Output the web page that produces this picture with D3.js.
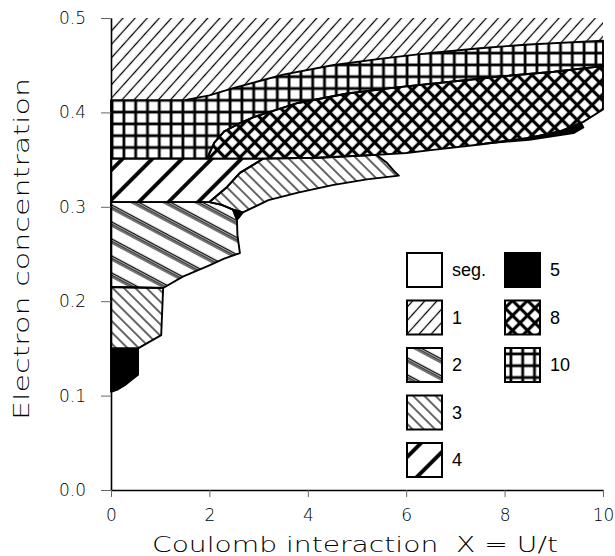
<!DOCTYPE html>
<html>
<head>
<meta charset="utf-8">
<script src="https://cdn.jsdelivr.net/npm/d3@7"></script>
<style>
  body { margin: 0; background: #fff; }
  svg { display: block; }
</style>
</head>
<body>
<svg id="chart" width="615" height="556"></svg>
<script>
// phase boundaries, [X = U/t, electron concentration]
const bndA = [[0,0.413],[1.5,0.413],[2.0,0.418],[2.5,0.426],[3.0,0.433],[3.5,0.44],[4.5,0.45],[5.5,0.457],[6.5,0.463],[7.5,0.468],[8.5,0.472],[10,0.476]];
const bndB = [[1.95,0.351],[2.1,0.368],[2.3,0.38],[2.6,0.388],[2.9,0.395],[3.8,0.41],[4.8,0.42],[5.9,0.427],[7.0,0.433],[7.9,0.438],[9.0,0.443],[10,0.449]];
const bnd8low = [[5.4,0.355],[6.0,0.357],[6.5,0.36],[7.5,0.366],[8.5,0.373],[9.13,0.38],[9.6,0.39],[10,0.403]];
const top4 = [[0,0.351],[3.09,0.351]];
const edge34 = [[3.09,0.351],[2.97,0.347],[2.62,0.336],[2.36,0.321],[2.0,0.305]];
const top3 = [[3.09,0.351],[4.2,0.352],[5.4,0.355]];
const tip3 = [[5.4,0.355],[5.6,0.347],[5.75,0.338],[5.85,0.333]];
const bot3 = [[5.85,0.333],[5.2,0.329],[4.5,0.323],[3.8,0.315],[3.2,0.307],[2.68,0.294]];
const tri5 = [[2.48,0.297],[2.68,0.294],[2.56,0.286]];
const edge23 = [[2.0,0.305],[2.25,0.302],[2.48,0.297]];
const right2 = [[2.56,0.286],[2.57,0.27],[2.62,0.251],[2.3,0.245],[2.0,0.238],[1.46,0.226],[1.06,0.214],[0,0.215]];
const low3 = [[0,0.215],[1.06,0.214],[1.02,0.164],[0.55,0.150],[0,0.150]];
const low5 = [[0,0.150],[0.55,0.150],[0.55,0.122],[0.4,0.116],[0.28,0.111],[0.12,0.106],[0,0.104]];
const sliver5 = [[7.6,0.367],[8.5,0.373],[9.13,0.38],[9.55,0.389],[9.6,0.384],[9.4,0.378],[8.5,0.371]];

const xTicks = [0, 2, 4, 6, 8, 10];
const yTicks = [0, 0.1, 0.2, 0.3, 0.4, 0.5];
const legendCol1 = ["seg.", "1", "2", "3", "4"];
const legendCol2 = ["5", "8", "10"];

const rev = a => a.slice().reverse();

const regions = [
  { id: "1", pts: [[0,0.5],[10,0.5], ...rev(bndA)], stroke: false },
  { id: "10", pts: [...bndA, ...rev(bndB), [0,0.351]] },
  { id: "8", pts: [...bndB, ...rev(bnd8low), ...rev(top3).slice(1)] },
  { id: "4", pts: [...top4, ...edge34.slice(1), [0,0.305]] },
  { id: "3", pts: [...rev(edge34), ...top3.slice(1), ...tip3.slice(1), ...bot3.slice(1), [2.48,0.297], ...rev(edge23).slice(1)] },
  { id: "2", pts: [[0,0.305], ...edge23, ...right2] },
  { id: "5", pts: tri5 },
  { id: "3", pts: low3 },
  { id: "5", pts: low5 },
  { id: "5", pts: sliver5 }
];

const width = 615, height = 556;
const margin = { top: 18, right: 12, bottom: 66, left: 111 };

const svg = d3.select("#chart");

const x = d3.scaleLinear().domain([0, 10]).range([margin.left, width - margin.right]);
const y = d3.scaleLinear().domain([0, 0.5]).range([height - margin.bottom, margin.top]);

// hatch patterns
const defs = svg.append("defs");

function hatch(id, size, angle, lines) {
  const p = defs.append("pattern")
    .attr("id", "p" + id)
    .attr("patternUnits", "userSpaceOnUse")
    .attr("width", size).attr("height", size)
    .attr("patternTransform", `rotate(${angle})`);
  lines.forEach(l => {
    p.append("line")
      .attr("x1", l.h ? 0 : l.o).attr("x2", l.h ? size : l.o)
      .attr("y1", l.h ? l.o : 0).attr("y2", l.h ? l.o : size)
      .attr("stroke", "#000").attr("stroke-width", l.w);
  });
}
hatch("1", 9, 42, [{ o: 4.5, w: 1.25 }]);
hatch("3", 8, -45, [{ o: 4, w: 1.2 }]);
hatch("2", 15, -62, [{ o: 3, w: 1.1 }, { o: 4.8, w: 1.1 }, { o: 6.6, w: 1.1 }]);
hatch("4", 21, 45, [{ o: 10, w: 3.8 }]);
hatch("10", 11.8, 0, [{ o: 5.9, w: 2.8 }, { o: 5.9, w: 2.8, h: true }]);
hatch("8", 10.6, 45, [{ o: 5.3, w: 3.2 }, { o: 5.3, w: 3.2, h: true }]);

const fill = id => id === "5" ? "#000" : id === "seg." ? "#fff" : `url(#p${id})`;

const line = d3.line().x(d => x(d[0])).y(d => y(d[1]));

svg.append("g")
  .selectAll("path")
  .data(regions)
  .join("path")
  .attr("d", d => line(d.pts) + "Z")
  .attr("fill", d => fill(d.id))
  .attr("stroke", d => d.stroke === false ? "none" : "#000")
  .attr("stroke-width", 1.9)
  .attr("stroke-linejoin", "round");

// axes
const font = "'DejaVu Sans', Lato, sans-serif";

svg.append("g")
  .attr("transform", `translate(${margin.left},0)`)
  .call(d3.axisLeft(y).tickValues(yTicks).tickFormat(d3.format(".1f")).tickSize(10).tickPadding(15).tickSizeOuter(0))
  .call(g => g.select(".domain").attr("stroke-width", 1.6))
  .call(g => g.selectAll(".tick line").attr("stroke", "#666"))
  .call(g => g.selectAll(".tick text").attr("font-family", font).attr("font-weight", 200).attr("font-size", 17).attr("fill", "#000"));

svg.append("g")
  .attr("transform", `translate(0,${height - margin.bottom})`)
  .call(d3.axisBottom(x).tickValues(xTicks).tickSize(7).tickPadding(12).tickSizeOuter(0))
  .call(g => g.select(".domain").attr("stroke-width", 1.6))
  .call(g => g.selectAll(".tick line").attr("stroke", "#666"))
  .call(g => g.selectAll(".tick text").attr("font-family", font).attr("font-weight", 200).attr("font-size", 17).attr("fill", "#000"));

svg.append("text")
  .attr("transform", `translate(29,249) rotate(-90)`)
  .attr("text-anchor", "middle")
  .attr("font-family", font).attr("font-weight", 200).attr("font-size", 22).attr("fill", "#000")
  .attr("textLength", 342).attr("lengthAdjust", "spacingAndGlyphs")
  .text("Electron concentration");

svg.append("text")
  .attr("x", 355)
  .attr("y", 552)
  .attr("text-anchor", "middle")
  .attr("font-family", font).attr("font-weight", 200).attr("font-size", 22).attr("fill", "#000")
  .attr("textLength", 406).attr("lengthAdjust", "spacingAndGlyphs")
  .attr("xml:space", "preserve")
  .text("Coulomb interaction  X = U/t");

// legend
const legend = svg.append("g").attr("font-family", "'Liberation Sans', Arial, sans-serif").attr("font-size", 18);
const items = [
  ...legendCol1.map((d, i) => ({ id: d, col: 0, row: i })),
  ...legendCol2.map((d, i) => ({ id: d, col: 1, row: i }))
];
const lg = legend.selectAll("g")
  .data(items)
  .join("g")
  .attr("transform", d => `translate(${407 + d.col * 98},${253 + d.row * 47.5})`);
lg.append("rect")
  .attr("width", 35).attr("height", 34)
  .attr("fill", d => fill(d.id))
  .attr("stroke", "#000").attr("stroke-width", 2);
lg.append("text")
  .attr("x", 45).attr("y", 17).attr("dy", "0.35em")
  .text(d => d.id);
</script>
</body>
</html>
